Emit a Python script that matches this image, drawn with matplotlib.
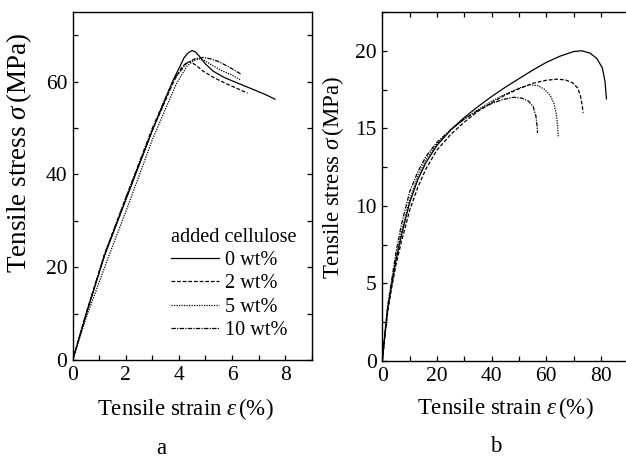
import matplotlib
matplotlib.use("Agg")
import matplotlib.pyplot as plt
from matplotlib.ticker import MultipleLocator

plt.rcParams['font.family'] = ['Liberation Serif', 'DejaVu Serif']
plt.rcParams['mathtext.fontset'] = 'custom'
plt.rcParams['mathtext.rm'] = 'Liberation Serif'
plt.rcParams['mathtext.it'] = 'Liberation Serif:italic'

labels = ["0 wt%", "2 wt%", "5 wt%", "10 wt%"]

# Panel a
a_x0 = [0, 0.5, 1.2, 2.0, 3.0, 3.8, 4.2, 4.35, 4.5, 4.62, 4.75, 5.0, 5.3, 5.7, 6.2, 6.8, 7.3, 7.62]
a_y0 = [0, 9.7, 22.5, 34.5, 49.5, 60.5, 65.2, 66.2, 66.7, 66.4, 65.6, 63.8, 62.2, 60.9, 59.7, 58.3, 57.1, 56.2]
a_x2 = [0, 0.5, 1.2, 2.0, 3.0, 3.8, 4.1, 4.25, 4.4, 4.6, 4.9, 5.3, 5.8, 6.2, 6.59]
a_y2 = [0, 9.9, 22.8, 34.8, 49.5, 60.0, 63.0, 63.9, 64.3, 63.7, 62.3, 60.9, 59.5, 58.5, 57.5]
a_x5 = [0, 0.5, 1.3, 2.1, 3.0, 3.9, 4.3, 4.55, 4.75, 4.95, 5.2, 5.6, 6.0, 6.34]
a_y5 = [0, 9.0, 21.5, 33.5, 47.5, 59.5, 63.3, 64.5, 64.9, 64.6, 63.7, 62.4, 61.4, 60.3]
a_x10 = [0, 0.5, 1.2, 2.0, 3.0, 3.8, 4.3, 4.6, 4.9, 5.2, 5.5, 5.9, 6.34]
a_y10 = [0, 9.9, 22.8, 35.0, 50.0, 60.5, 64.0, 64.9, 65.2, 64.9, 64.3, 63.1, 61.6]

# Panel b
b_x0 = [0, 1, 2, 3.5, 5, 7, 10, 13, 16, 20, 25, 30, 35, 40, 45, 50, 55, 60, 65, 70, 73, 76, 78.5, 80.5, 81.5, 82]
b_y0 = [0, 1.8, 3.4, 5.0, 6.5, 8.1, 10.2, 11.7, 12.8, 13.9, 14.9, 15.7, 16.4, 17.05, 17.65, 18.2, 18.75, 19.25, 19.65, 19.95, 20.0, 19.85, 19.5, 18.9, 18.0, 16.9]
b_x2 = [0, 1, 2, 3.5, 5, 7, 10, 13, 16, 20, 25, 30, 35, 40, 45, 50, 55, 60, 64, 67, 69.5, 71.5, 72.5, 73.1, 73.5]
b_y2 = [0, 1.7, 3.2, 4.8, 6.2, 7.7, 9.7, 11.2, 12.4, 13.6, 14.6, 15.4, 16.1, 16.65, 17.15, 17.55, 17.9, 18.1, 18.17, 18.12, 17.95, 17.6, 17.1, 16.5, 16.0]
b_x5 = [0, 1, 2, 3.5, 5, 7, 10, 13, 16, 20, 25, 30, 35, 40, 45, 50, 54, 57, 59.5, 61.5, 62.8, 63.7, 64.1, 64.4]
b_y5 = [0, 1.8, 3.4, 5.0, 6.6, 8.3, 10.4, 11.9, 13.0, 14.0, 14.9, 15.6, 16.2, 16.75, 17.2, 17.6, 17.8, 17.75, 17.5, 17.1, 16.6, 15.9, 15.2, 14.4]
b_x10 = [0, 1, 2, 3.5, 5, 7, 10, 13, 16, 20, 25, 30, 35, 40, 44, 48, 51, 53.5, 55.2, 56.2, 56.6, 56.8]
b_y10 = [0, 1.9, 3.6, 5.3, 7.0, 8.8, 10.9, 12.2, 13.2, 14.1, 14.9, 15.6, 16.15, 16.6, 16.85, 17.0, 16.95, 16.75, 16.4, 15.8, 15.2, 14.7]

styles = [dict(ls='-'), dict(ls=(0, (3, 1.5))), dict(ls=(0, (1, 1))), dict(ls=(0, (3.5, 1, 1, 1)))]

W, H = 626, 458
fig = plt.figure(figsize=(W / 100, H / 100), dpi=100)

def px_axes(l, r, b, t):
    return fig.add_axes([l / W, (H - b) / H, (r - l) / W, (b - t) / H])

axa = px_axes(72.7, 311.7, 360, 12)
axb = px_axes(382.3, 628.3, 361, 12)

for (x, y), st, lab in zip([(a_x0, a_y0), (a_x2, a_y2), (a_x5, a_y5), (a_x10, a_y10)], styles, labels):
    axa.plot(x, y, color='black', lw=0.9, label=lab, **st)
for (x, y), st in zip([(b_x0, b_y0), (b_x2, b_y2), (b_x5, b_y5), (b_x10, b_y10)], styles):
    axb.plot(x, y, color='black', lw=0.9, **st)

axa.set_xlim(0, 9)
axa.set_ylim(0, 75)
axa.xaxis.set_major_locator(MultipleLocator(2))
axa.xaxis.set_minor_locator(MultipleLocator(1))
axa.yaxis.set_major_locator(MultipleLocator(20))
axa.yaxis.set_minor_locator(MultipleLocator(10))

axb.set_xlim(0, 90)
axb.set_ylim(0, 22.5)
axb.xaxis.set_major_locator(MultipleLocator(20))
axb.xaxis.set_minor_locator(MultipleLocator(10))
axb.yaxis.set_major_locator(MultipleLocator(5))
axb.yaxis.set_minor_locator(MultipleLocator(2.5))

for ax in (axa, axb):
    ax.tick_params(which='both', direction='in', top=True, right=True, labelsize=15.5, pad=4)
    ax.tick_params(which='major', length=3.5, width=0.9)
    ax.tick_params(which='minor', length=3.5, width=0.9)
    for s in ax.spines.values():
        s.set_linewidth(1.0)
    ax.set_xlabel(r'Tensile strain $\varepsilon\,$(%)', fontsize=16.5)

axa.tick_params(which='both', top=False)
axb.tick_params(which='both', right=False)
axa.set_ylabel(r'Tensile stress $\sigma\,$(MPa)', fontsize=19.5)
axb.set_ylabel(r'Tensile stress $\sigma\,$(MPa)', fontsize=16.5)

axa.xaxis.set_label_coords((185.5 - 72.7) / 239, -(396 - 360) / 348)
axb.xaxis.set_label_coords((505 - 382.3) / 246, -(395 - 361) / 349)
axa.yaxis.set_label_coords((34 - 72.7) / 239, (360 - 153) / 348)
axb.yaxis.set_label_coords((346 - 382.3) / 246, (361 - 177) / 349)

leg = axa.legend(loc='upper left', bbox_to_anchor=(171 / W, (H - 228) / H),
                 bbox_transform=fig.transFigure, frameon=False, fontsize=14.6,
                 title='added cellulose', title_fontsize=14.6, alignment='left',
                 handlelength=2.35, handletextpad=0.3, labelspacing=0.2,
                 borderpad=0, borderaxespad=0)

fig.text(161 / W, 1 - 448 / H, 'a', fontsize=16.5, ha='center', va='center')
fig.text(496 / W, 1 - 447 / H, 'b', fontsize=16.5, ha='center', va='center')

fig.savefig('out.png', dpi=100)
